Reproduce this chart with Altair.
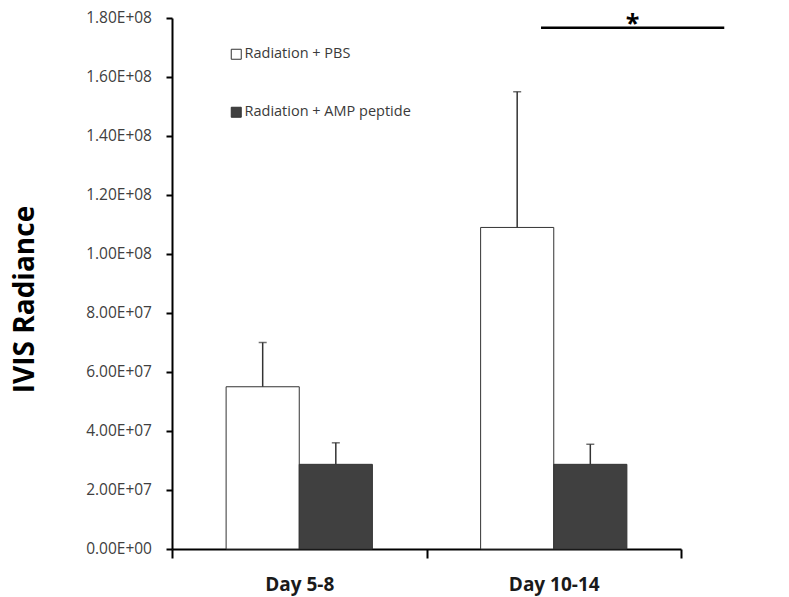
import altair as alt
import pandas as pd

# ---- data ----
days = ["Day 5-8", "Day 10-14"]
groups = ["Radiation + PBS", "Radiation + AMP peptide"]
pbs_mean = [5.5e7, 1.09e8]
pbs_upper = [7.0e7, 1.55e8]
amp_mean = [2.87e7, 2.87e7]
amp_upper = [3.6e7, 3.55e7]
y_ticks = [0, 2e7, 4e7, 6e7, 8e7, 1e8, 1.2e8, 1.4e8, 1.6e8, 1.8e8]

# significance bracket (x in category units, 0..2 across the axis)
sig_x = [1.45, 2.17]
sig_y = [1.767e8]
sig_star_x = [1.81]
sig_label = ["*"]

rows = []
for i, d in enumerate(days):
    rows.append({"day": d, "group": groups[0], "mean": pbs_mean[i], "upper": pbs_upper[i]})
    rows.append({"day": d, "group": groups[1], "mean": amp_mean[i], "upper": amp_upper[i]})
df = pd.DataFrame(rows)

sig_df = pd.DataFrame({"x": [sig_x[0]], "x2": [sig_x[1]], "y": sig_y})
star_df = pd.DataFrame({"x": sig_star_x, "y": sig_y, "label": sig_label})
tick_df = pd.DataFrame({"v": y_ticks, "label": [f"{v:.2E}" for v in y_ticks]})

FONT = "Open Sans"

y_axis = alt.Axis(values=y_ticks, title="IVIS Radiance", labels=False, tickSize=6)

x_enc = alt.X("day:N", sort=days, scale=alt.Scale(paddingInner=0, paddingOuter=0),
              axis=alt.Axis(title=None, labelAngle=0, tickBand="extent"))
xo_enc = alt.XOffset("group:N", sort=groups,
                     scale=alt.Scale(paddingInner=0, paddingOuter=0.74))
y_scale = alt.Scale(domain=[0, 1.8e8], nice=False)

bars = alt.Chart(df).mark_bar(stroke="#333333", strokeWidth=1).encode(
    x=x_enc,
    xOffset=xo_enc,
    y=alt.Y("mean:Q", scale=y_scale, axis=y_axis),
    color=alt.Color("group:N", sort=groups,
                    scale=alt.Scale(domain=groups, range=["white", "#404040"]),
                    legend=alt.Legend(title=None, orient="none", legendX=57, legendY=29,
                                      symbolType="square", symbolSize=100,
                                      symbolStrokeColor="#333333", symbolStrokeWidth=1,
                                      labelFont=FONT, labelFontSize=14.5, labelColor="#3a3a3a",
                                      labelOffset=1, rowPadding=42, padding=0,
                                      labelLimit=400)),
)

err = alt.Chart(df).mark_rule(color="#333333", strokeWidth=1.5).encode(
    x=alt.X("day:N", sort=days), xOffset=xo_enc,
    y=alt.Y("mean:Q", scale=y_scale), y2="upper:Q",
)
caps = alt.Chart(df).mark_tick(color="#333333", size=8, thickness=1.5).encode(
    x=alt.X("day:N", sort=days), xOffset=xo_enc,
    y=alt.Y("upper:Q", scale=y_scale),
)

main = alt.layer(bars, err, caps)

ann_x = alt.Scale(domain=[0, 2], nice=False, zero=False)
sig_line = alt.Chart(sig_df).mark_rule(color="black", strokeWidth=2.5).encode(
    x=alt.X("x:Q", scale=ann_x, axis=None), x2="x2:Q",
    y=alt.Y("y:Q", scale=y_scale),
)
star = alt.Chart(star_df).mark_text(font=FONT, fontSize=25, fontWeight="bold",
                                    color="black", baseline="alphabetic", dy=4).encode(
    x=alt.X("x:Q", scale=ann_x, axis=None),
    y=alt.Y("y:Q", scale=y_scale),
    text="label:N",
)
y_labels = alt.Chart(tick_df).mark_text(font=FONT, fontSize=15.5, color="#404040",
                                        align="right", baseline="middle").encode(
    x=alt.value(-20),
    y=alt.Y("v:Q", scale=y_scale),
    text="label:N",
)
ann = alt.layer(sig_line, star, y_labels)

chart = alt.layer(main, ann).resolve_scale(x="independent").properties(
    width=509, height=531,
    autosize=alt.AutoSizeParams(type="none"),
    padding={"left": 164, "top": 10, "right": 100, "bottom": 50},
    background="white",
).configure_view(stroke=None).configure_axis(
    grid=False, domainColor="black", domainWidth=2, tickColor="black", tickWidth=2,
).configure_axisY(
    titleFont=FONT, titleFontSize=28, titleFontWeight="bold",
    titleColor="black", titleAngle=270, titleAlign="center",
    titleBaseline="alphabetic", titleX=-139, titleY=281,
).configure_axisX(
    tickSize=9, labelFont=FONT, labelFontSize=19, labelFontWeight="bold",
    labelColor="#1a1a1a", labelPadding=17,
)

chart.save("out.html", embed_options={"renderer": "svg", "actions": False})
